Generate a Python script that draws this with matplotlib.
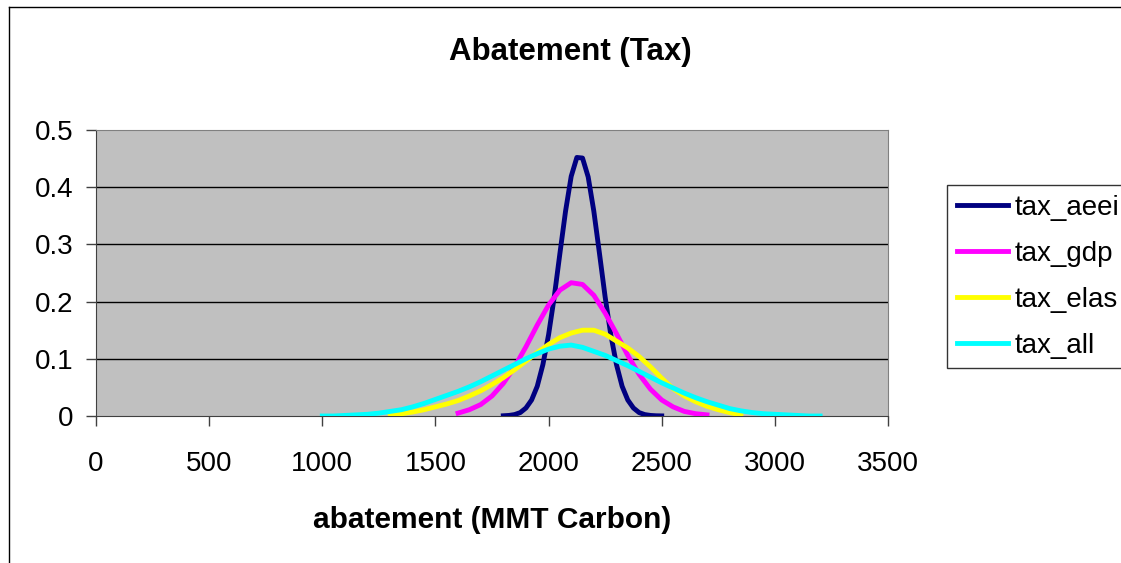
import matplotlib
matplotlib.use("Agg")
import matplotlib.pyplot as plt
from matplotlib.lines import Line2D

plt.rcParams['font.family'] = ['Liberation Sans', 'DejaVu Sans']

# values
x_aeei = [1800, 1825, 1850, 1875, 1900, 1925, 1950, 1975, 2000, 2025, 2050, 2075,
          2100, 2125, 2150, 2175, 2200, 2225, 2250, 2275, 2300, 2325, 2350, 2375,
          2400, 2425, 2450, 2475, 2500]
tax_aeei = [0.0004, 0.001, 0.0025, 0.006, 0.014, 0.028, 0.052, 0.090, 0.142, 0.208,
            0.284, 0.358, 0.419, 0.452, 0.451, 0.418, 0.358, 0.284, 0.208, 0.142,
            0.090, 0.052, 0.028, 0.014, 0.006, 0.0025, 0.001, 0.0004, 0.0002]

x_gdp = [1600, 1650, 1700, 1750, 1800, 1850, 1900, 1950, 2000, 2050, 2100, 2150,
         2200, 2250, 2300, 2350, 2400, 2450, 2500, 2550, 2600, 2650, 2700]
tax_gdp = [0.005, 0.011, 0.020, 0.035, 0.057, 0.086, 0.121, 0.159, 0.194, 0.220,
           0.233, 0.230, 0.211, 0.180, 0.144, 0.106, 0.073, 0.047, 0.028, 0.016,
           0.008, 0.004, 0.002]

x_elas = [1300, 1350, 1400, 1450, 1500, 1550, 1600, 1650, 1700, 1750, 1800, 1850,
          1900, 1950, 2000, 2050, 2100, 2150, 2200, 2250, 2300, 2350, 2400, 2450,
          2500, 2550, 2600, 2650, 2700, 2750, 2800, 2850]
tax_elas = [0.002, 0.004, 0.007, 0.011, 0.016, 0.021, 0.027, 0.035, 0.044, 0.055,
            0.067, 0.081, 0.096, 0.111, 0.125, 0.137, 0.145, 0.150, 0.150, 0.143,
            0.131, 0.119, 0.104, 0.086, 0.066, 0.048, 0.035, 0.025, 0.017, 0.011,
            0.006, 0.002]

x_all = [1000, 1050, 1100, 1150, 1200, 1250, 1300, 1350, 1400, 1450, 1500, 1550,
         1600, 1650, 1700, 1750, 1800, 1850, 1900, 1950, 2000, 2050, 2100, 2150,
         2200, 2250, 2300, 2350, 2400, 2450, 2500, 2550, 2600, 2650, 2700, 2750,
         2800, 2850, 2900, 2950, 3000, 3050, 3100, 3150, 3200]
tax_all = [0.000, 0.000, 0.001, 0.002, 0.003, 0.005, 0.008, 0.011, 0.016, 0.022,
           0.029, 0.036, 0.043, 0.051, 0.060, 0.070, 0.080, 0.090, 0.100, 0.109,
           0.117, 0.122, 0.124, 0.120, 0.113, 0.106, 0.097, 0.088, 0.078, 0.068,
           0.058, 0.049, 0.040, 0.032, 0.025, 0.019, 0.013, 0.009, 0.006, 0.004,
           0.003, 0.002, 0.001, 0.000, 0.000]

x_ticks = [0, 500, 1000, 1500, 2000, 2500, 3000, 3500]
y_ticks = [0, 0.1, 0.2, 0.3, 0.4, 0.5]
y_tick_labels = ["0", "0.1", "0.2", "0.3", "0.4", "0.5"]

fig = plt.figure(figsize=(11.21, 5.63), dpi=100)
ax = fig.add_axes([96 / 1121, 147 / 563, 792 / 1121, 286 / 563])
ax.set_facecolor("#C0C0C0")

# outer chart frame: only left and top edges are inside the picture
fig.lines.append(Line2D([8.5 / 1121, 8.5 / 1121], [0, 1 - 6.5 / 563],
                        transform=fig.transFigure, color="black", linewidth=1.0))
fig.lines.append(Line2D([8.5 / 1121, 1], [1 - 6.5 / 563, 1 - 6.5 / 563],
                        transform=fig.transFigure, color="black", linewidth=1.0))

for yv in y_ticks[1:-1]:
    ax.axhline(yv, color="black", linewidth=1.0, zorder=1)

ax.plot(x_aeei, tax_aeei, color="#000080", linewidth=3.5, label="tax_aeei", zorder=3)
ax.plot(x_gdp, tax_gdp, color="#FF00FF", linewidth=3.5, label="tax_gdp", zorder=3)
ax.plot(x_elas, tax_elas, color="#FFFF00", linewidth=3.5, label="tax_elas", zorder=3)
ax.plot(x_all, tax_all, color="#00FFFF", linewidth=3.5, label="tax_all", zorder=3)

ax.set_xlim(0, 3500)
ax.set_ylim(0, 0.5)
ax.set_xticks(x_ticks)
ax.set_xticklabels([str(v) for v in x_ticks])
ax.set_yticks(y_ticks)
ax.set_yticklabels(y_tick_labels)
ax.tick_params(axis="both", direction="out", length=7, width=1, colors="#404040",
               labelcolor="black", labelsize=20)
ax.tick_params(axis="x", pad=18)
ax.tick_params(axis="y", pad=9)

ax.spines["top"].set_color("#808080")
ax.spines["right"].set_color("#808080")
ax.spines["left"].set_color("#404040")
ax.spines["bottom"].set_color("#404040")

fig.text(570 / 1121, 1 - 52 / 563, "Abatement (Tax)", ha="center", va="center",
         fontsize=22.5, fontweight="bold")
ax.set_xlabel("abatement (MMT Carbon)", fontsize=21.5, fontweight="bold", labelpad=21)

leg = fig.legend(loc="upper left", bbox_to_anchor=(947 / 1121, 1 - 185 / 563),
                 fontsize=20, frameon=True, fancybox=False, shadow=False,
                 handlelength=1.83, handletextpad=0.25, labelspacing=0.72,
                 borderpad=0.35, borderaxespad=0)
leg.get_frame().set_edgecolor("black")
leg.get_frame().set_linewidth(1.0)

fig.savefig("out.png", dpi=100)
